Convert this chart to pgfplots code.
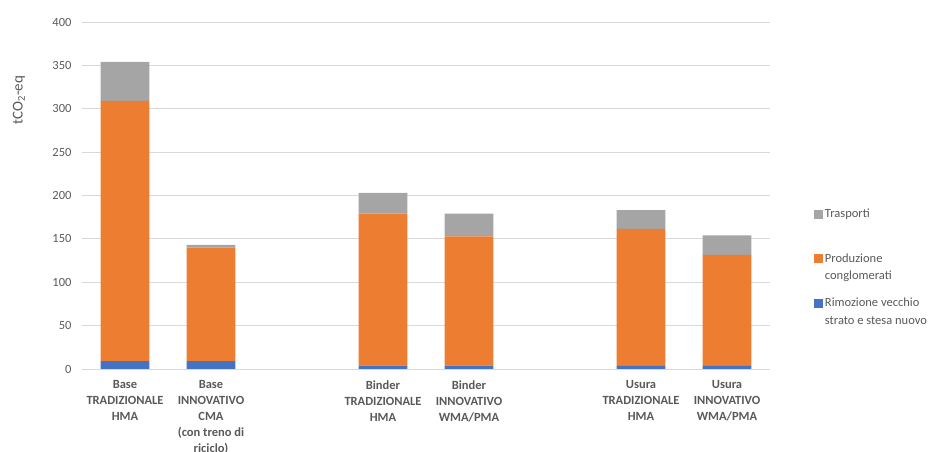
\documentclass[border=0pt]{standalone}
\usepackage{fontspec}
\setmainfont{Carlito}
\usepackage{pgfplots}
\pgfplotsset{compat=1.18}
\definecolor{cgray}{HTML}{A5A5A5}
\definecolor{corange}{HTML}{ED7D31}
\definecolor{cblue}{HTML}{4472C4}
\definecolor{gridc}{HTML}{D9D9D9}
\definecolor{txt}{HTML}{595959}
\begin{document}
\begin{tikzpicture}[font=\fontsize{12.5pt}{16pt}\selectfont]
\useasboundingbox (0,0) rectangle (946pt,452pt);
\begin{axis}[
  at={(82pt,83pt)}, anchor=south west,
  scale only axis, width=688pt, height=347pt,
  ybar stacked, bar width=48.6pt,
  ymin=0, ymax=400, ytick={0,50,...,400},
  xmin=-0.5, xmax=7.5,
  xtick={0,1,3,4,6,7},
  xticklabels={
    {Base\\TRADIZIONALE\\HMA},
    {Base\\INNOVATIVO\\CMA\\(con treno di\\riciclo)},
    {Binder\\TRADIZIONALE\\HMA},
    {Binder\\INNOVATIVO\\WMA/PMA},
    {Usura\\TRADIZIONALE\\HMA},
    {Usura\\INNOVATIVO\\WMA/PMA}},
  xticklabel style={align=center, font=\fontsize{12.5pt}{16pt}\selectfont\bfseries, text=txt, yshift=-8pt},
  yticklabel style={text=txt, xshift=-7pt},
  /pgf/number format/assume math mode=true,
  axis x line*=bottom, axis y line*=left,
  x axis line style={draw=gridc, line width=0.9pt},
  y axis line style={draw=none},
  tick style={draw=none},
  ymajorgrids, grid style={gridc, line width=0.8pt},
  ylabel={tCO\textsubscript{2}-eq},
  every axis y label/.style={at={(rel axis cs:-0.0916,0.775)}, rotate=90, anchor=center,
    text=txt, font=\fontsize{15pt}{18pt}\selectfont},
  reverse legend,
  legend cell align=left,
  legend style={at={(rel axis cs:1.060,0.474)}, anchor=north west, draw=none, fill=none,
    row sep=13pt, text=txt, cells={align=left}, nodes={inner xsep=1.5pt},
    font=\fontsize{12.5pt}{17.5pt}\selectfont},
  legend image code/.code={\fill[#1] (0pt,4pt) rectangle (9pt,13pt);},
]
\addplot[fill=cblue, draw=none] coordinates {(0,9) (1,9) (3,4) (4,4) (6,3.5) (7,3.5)};
\addplot[fill=corange, draw=none] coordinates {(0,300) (1,131) (3,175) (4,149) (6,158) (7,128)};
\addplot[fill=cgray, draw=none] coordinates {(0,45) (1,3) (3,24) (4,26) (6,21.5) (7,22.5)};
\legend{{Rimozione vecchio\\strato e stesa nuovo},{Produzione\\conglomerati},{Trasporti\\\vphantom{conglomerati}}}
\end{axis}
\end{tikzpicture}
\end{document}
